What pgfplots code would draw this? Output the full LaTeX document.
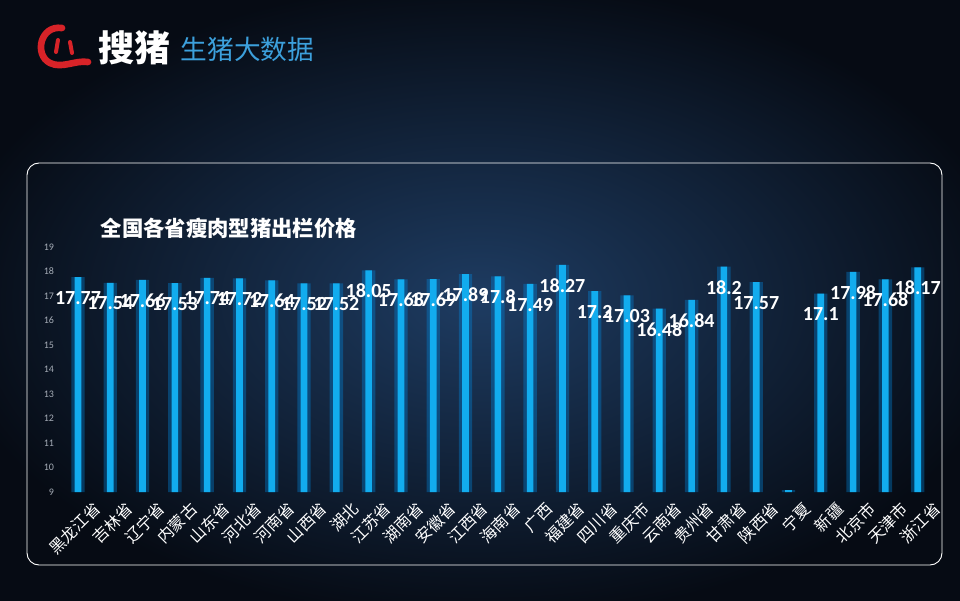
\documentclass[border=0pt]{standalone}
\usepackage{pgfplots}
\pgfplotsset{compat=1.18}
\usepackage{fontspec}
\setmainfont{Carlito}
\newfontfamily\cjk{Noto Sans CJK SC}
\definecolor{bgin}{RGB}{30,60,98}
\definecolor{bgout}{RGB}{6,11,20}
\definecolor{barc}{RGB}{18,172,238}
\definecolor{glowc}{RGB}{0,140,230}
\definecolor{tickgray}{RGB}{165,172,182}
\definecolor{logoblue}{RGB}{60,160,220}
\definecolor{logored}{RGB}{215,35,40}
\begin{document}
\begin{tikzpicture}[x=0.75pt,y=0.75pt]
  \useasboundingbox (0,0) rectangle (960,600);
  % background
  \begin{scope}
    \clip (0,0) rectangle (960,600);
    \shade[inner color=bgin, outer color=bgout] (-60,-20) rectangle (1020,620);
  \end{scope}

  % logo
  \draw[logored, line width=5pt, line cap=round]
    (62,572) .. controls (40,575) and (34,545) .. (50,537)
             .. controls (62,531) and (75,540) .. (88,538);
  \draw[logored, line width=3pt, line cap=round] (58,560) -- (56,548);
  \draw[logored, line width=3pt, line cap=round] (70,558) -- (72,547);
  \node[text=white, font=\cjk\bfseries\fontsize{27}{27}\selectfont, anchor=west]
    at (94,552) {搜猪};
  \node[text=logoblue, font=\cjk\fontsize{20}{20}\selectfont, anchor=west]
    at (176,551) {生猪大数据};

  % frame
  \draw[white, line width=0.7pt, rounded corners=9pt] (27,437) rectangle (942,35);

  % title
  \node[text=white, font=\cjk\bfseries\fontsize{16}{16}\selectfont, anchor=west]
    at (96,372) {全国各省瘦肉型猪出栏价格};

  \coordinate (axpos) at (58.6,108);
  \begin{axis}[
    at={(axpos)}, anchor=south west,
    scale only axis,
    width=654pt, height=183.75pt,
    xmin=-0.6, xmax=26.4,
    ymin=9, ymax=19,
    ytick={9,10,...,19},
    xtick={0,1,...,26},
    xticklabels={黑龙江省,吉林省,辽宁省,内蒙古,山东省,河北省,河南省,山西省,湖北,江苏省,湖南省,安徽省,江西省,海南省,广西,福建省,四川省,重庆市,云南省,贵州省,甘肃省,陕西省,宁夏,新疆,北京市,天津市,浙江省},
    x tick label style={rotate=45, anchor=north east, text=white,
      font=\cjk\fontsize{12}{12}\selectfont, inner sep=1pt,
      xshift=4pt, yshift=-11pt},
    y tick label style={text=tickgray, font=\fontsize{7.5}{7.5}\selectfont},
    /pgf/number format/assume math mode=true,
    axis line style={draw=none},
    major tick length=0pt,
    ybar,
    clip=false,
  ]
    % value labels (drawn first, bars cover them)
    \addplot[bar shift=0pt, bar width=5.5pt, fill=none, draw=none,
      point meta=explicit symbolic,
      nodes near coords,
      nodes near coords style={anchor=center, yshift=-15.5pt, text=white,
        font=\bfseries\fontsize{15}{15}\selectfont}]
      coordinates {(0,17.77) [17.77] (1,17.54) [17.54] (2,17.66) [17.66]
        (3,17.53) [17.53] (4,17.74) [17.74] (5,17.72) [17.72]
        (6,17.64) [17.64] (7,17.52) [17.52] (8,17.52) [17.52]
        (9,18.05) [18.05] (10,17.68) [17.68] (11,17.69) [17.69]
        (12,17.89) [17.89] (13,17.8) [17.8] (14,17.49) [17.49]
        (15,18.27) [18.27] (16,17.2) [17.2] (17,17.03) [17.03]
        (18,16.48) [16.48] (19,16.84) [16.84] (20,18.2) [18.2]
        (21,17.57) [17.57] (23,17.1) [17.1] (24,17.98) [17.98]
        (25,17.68) [17.68] (26,18.17) [18.17]};
    % glow
    \addplot[bar shift=0pt, bar width=10pt, fill=glowc, draw=none, opacity=0.35]
      coordinates {(0,17.77) (1,17.54) (2,17.66) (3,17.53) (4,17.74) (5,17.72)
        (6,17.64) (7,17.52) (8,17.52) (9,18.05) (10,17.68) (11,17.69) (12,17.89)
        (13,17.8) (14,17.49) (15,18.27) (16,17.2) (17,17.03) (18,16.48)
        (19,16.84) (20,18.2) (21,17.57) (22,9.08) (23,17.1) (24,17.98)
        (25,17.68) (26,18.17)};
    % bars
    \addplot[bar shift=0pt, bar width=5pt, fill=barc, draw=none]
      coordinates {(0,17.77) (1,17.54) (2,17.66) (3,17.53) (4,17.74) (5,17.72)
        (6,17.64) (7,17.52) (8,17.52) (9,18.05) (10,17.68) (11,17.69) (12,17.89)
        (13,17.8) (14,17.49) (15,18.27) (16,17.2) (17,17.03) (18,16.48)
        (19,16.84) (20,18.2) (21,17.57) (22,9.08) (23,17.1) (24,17.98)
        (25,17.68) (26,18.17)};
  \end{axis}
\end{tikzpicture}
\end{document}
